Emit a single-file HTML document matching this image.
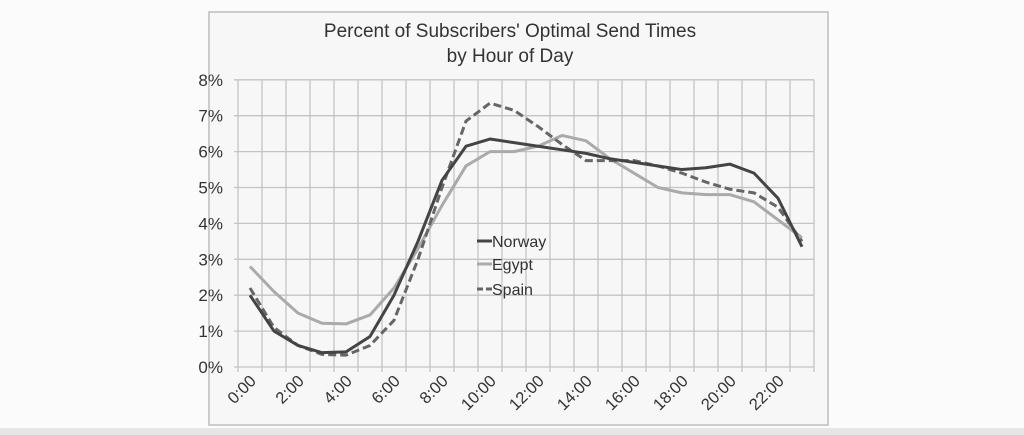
<!DOCTYPE html>
<html><head><meta charset="utf-8"><style>
html,body{margin:0;padding:0;background:#fff;width:1024px;height:435px;overflow:hidden}
svg{display:block}
text{font-family:"Liberation Sans",Arial,sans-serif;fill:#333}
</style></head><body>
<svg id="s" width="1024" height="435" xmlns="http://www.w3.org/2000/svg">
<rect x="0" y="0" width="1024" height="435" fill="#fbfbfb"/>
<rect x="0" y="428" width="1024" height="7" fill="#e6e6e6"/>
<rect x="209" y="12" width="619" height="413" fill="#f7f7f7" stroke="#bdbdbd" stroke-width="1.5"/>
<text x="510" y="37" font-size="19" text-anchor="middle">Percent of Subscribers' Optimal Send Times</text>
<text x="510" y="62" font-size="19" text-anchor="middle">by Hour of Day</text>
<g id="grid"></g>
<g id="series"></g>
<g>
<line x1="477" y1="241" x2="492" y2="241" stroke="#444" stroke-width="3"/>
<text x="492" y="247" font-size="16">Norway</text>
<line x1="477" y1="264" x2="492" y2="264" stroke="#aaa" stroke-width="3"/>
<text x="492" y="270" font-size="16">Egypt</text>
<line x1="477" y1="289" x2="492" y2="289" stroke="#666" stroke-width="3" stroke-dasharray="6,3"/>
<text x="492" y="295" font-size="16">Spain</text>
</g>
</svg>
<script>
var NS="http://www.w3.org/2000/svg",g=document.getElementById('grid'),se=document.getElementById('series');
function el(t,a,p){var e=document.createElementNS(NS,t);for(var k in a)e.setAttribute(k,a[k]);p.appendChild(e);return e;}
var x0=238,x1=814,y0=367,py=35.9,cw=24;
for(var i=0;i<=8;i++){var y=y0-i*py;el('line',{x1:x0-4,y1:y,x2:x1,y2:y,stroke:'#c4c4c4','stroke-width':1.3},g);
var t=el('text',{x:223,y:y+6,'font-size':17,'text-anchor':'end'},g);t.textContent=i+'%';}
for(var j=0;j<=24;j++){var x=x0+j*cw;el('line',{x1:x,y1:y0-8*py,x2:x,y2:y0+5,stroke:'#c4c4c4','stroke-width':1.3},g);}
for(var h=0;h<24;h+=2){var cx=x0+h*cw+cw/2+7,cy=y0+15;var t=el('text',{x:cx,y:cy,'font-size':16.5,'text-anchor':'end',transform:'rotate(-45 '+cx+' '+cy+')'},g);t.textContent=h+':00';}
var N=[2.0,1.0,0.6,0.4,0.42,0.85,2.0,3.5,5.2,6.15,6.35,6.25,6.15,6.05,5.95,5.8,5.7,5.6,5.5,5.55,5.65,5.4,4.7,3.35];
var E=[2.8,2.1,1.5,1.22,1.2,1.45,2.2,3.3,4.5,5.6,6.0,6.0,6.15,6.45,6.3,5.8,5.4,5.0,4.85,4.8,4.8,4.6,4.1,3.6];
var S=[2.2,1.1,0.6,0.35,0.33,0.6,1.3,3.0,5.0,6.85,7.35,7.15,6.7,6.2,5.75,5.75,5.75,5.6,5.4,5.15,4.95,4.85,4.45,3.5];
function pl(d,c,da){var p=d.map(function(v,i){return (x0+i*cw+cw/2)+','+(y0-v*py)}).join(' ');
var a={points:p,fill:'none',stroke:c,'stroke-width':3,'stroke-linejoin':'round'};if(da)a['stroke-dasharray']=da;el('polyline',a,se);}
pl(E,'#aaa');pl(S,'#666','8,4');pl(N,'#444');
</script>
</body></html>
